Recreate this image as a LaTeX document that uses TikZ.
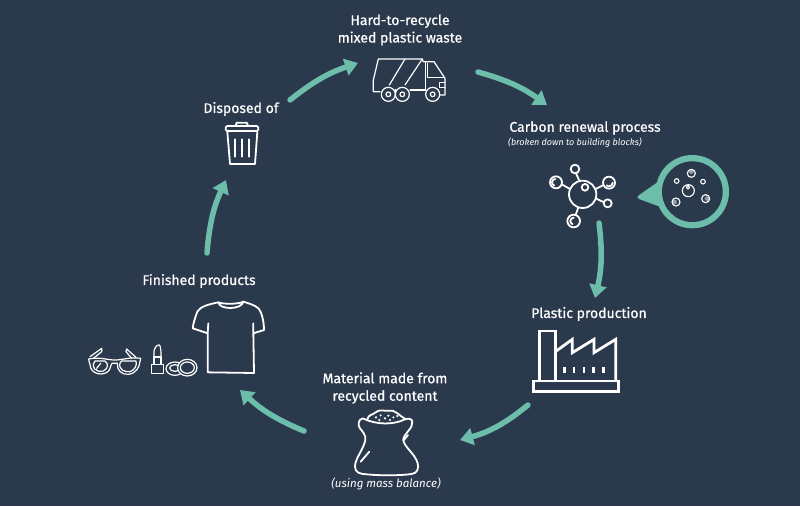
\documentclass[tikz,border=0pt]{standalone}
\usepackage{fontspec}
\setmainfont{Fira Sans}
\usetikzlibrary{arrows.meta}
\definecolor{bg}{HTML}{2B394D}
\definecolor{teal}{HTML}{6CBDA9}
\tikzset{
  lab/.style={text=white,font=\fontsize{14}{17.5}\selectfont\addfontfeature{FakeBold=0.6},align=center,inner sep=0},
  sub/.style={text=white,font=\fontsize{9}{11}\selectfont\itshape,inner sep=0},
  flow/.style={draw=teal,line width=5.5pt,line cap=round,-{Triangle[length=13pt,width=17pt,fill=teal]}},
  icon/.style={draw=white,line width=1.8pt,line cap=round,line join=round},
  fine icon/.style={draw=white,line width=1.2pt,line cap=round,line join=round},
  thick icon/.style={draw=white,line width=2.8pt,line join=miter},
  zoomed/.style={shift={#1},scale=1/3}
}
\begin{document}
\begin{tikzpicture}[x=1pt,y=-1pt]
\fill[bg] (0,0) rectangle (800,506);
\useasboundingbox (0,0) rectangle (800,506);
% labels
\node[lab] (waste) at (400,30) {Hard-to-recycle\\mixed plastic waste};
\node[lab] (disposed) at (241,109) {Disposed of};
\node[lab] (carbon) at (585,128) {Carbon renewal process};
\node[sub] (broken) at (575,143) {(broken down to building blocks)};
\node[lab] (plastic) at (589,314) {Plastic production};
\node[lab] (material) at (385,388) {Material made from\\recycled content};
\node[sub,font=\fontsize{11.5}{14}\selectfont\itshape] (balance) at (386,484) {(using mass balance)};
\node[lab] (finished) at (199,281) {Finished products};
% flow arrows
\coordinate (a1) at (290,100); \coordinate (a1e) at (358,63);
\coordinate (b1) at (478,72);  \coordinate (b1e) at (547,105);
\coordinate (c1) at (599,223); \coordinate (c1e) at (595,298);
\coordinate (d1) at (528,405); \coordinate (d1e) at (460,440);
\coordinate (e1) at (304,431); \coordinate (e1e) at (240,390);
\coordinate (f1) at (207,253); \coordinate (f1e) at (226,180);
\draw[flow] (a1) to[bend left=10] (a1e);
\draw[flow] (b1) to[bend left=10] (b1e);
\draw[flow] (c1) to[bend left=10] (c1e);
\draw[flow] (d1) to[bend left=12] (d1e);
\draw[flow] (e1) to[bend left=10] (e1e);
\draw[flow] (f1) to[bend left=10] (f1e);
% truck
\begin{scope}[zoomed={(360,0)}]
\begin{scope}[every path/.style={fine icon}]
\path (60,275)--(40,275)--(40,240)--(55,177)--(187,177)--(190,185)--(222,185)--(255,235)--(255,285)--(240,285);
\path (197,270)--(150,270) (105,270)--(107,270);
\path (135,177)--(88,255) (187,177)--(135,255);
\path (197,185)--(197,270) (203,190)--(203,232)--(250,232);
\path (255,248)--(238,248)--(238,263)--(255,263);
\foreach \x in {85,127,218}{\path (\x,283) circle[radius=21]; \path (\x,283) circle[radius=7];}
\end{scope}
\end{scope}
% molecule
\begin{scope}[zoomed={(530,150)}]
\draw[icon] (158,133) circle[radius=41] (165,112) circle[radius=10];
\draw[icon] (135,57) circle[radius=13] (148,92)--(138,70);
\draw[icon] (237,98) circle[radius=18] (195,118)--(221,105);
\draw[icon] (233,160) circle[radius=12] (197,145)--(222,157);
\draw[icon] (78,97) circle[radius=18] (120,117)--(95,103);
\draw[icon] (131,213) circle[radius=19] (145,172)--(137,195);
\draw[icon] (76,87) arc[start angle=-90,end angle=-250,radius=10];
\draw[icon] (248,98) arc[start angle=0,end angle=130,radius=11];
\draw[icon] (131,203) arc[start angle=-90,end angle=-250,radius=10];
% bubble
\fill[teal,rounded corners=4pt] (395,88)--(316,143)--(395,172)--cycle;
\fill[teal] (487,125) circle[radius=110];
\fill[bg] (487,125) circle[radius=91];
\draw[icon,line width=1.1pt] (475,122) circle[radius=18] (474,112) circle[radius=5]
  (484,70) circle[radius=12] (440,93) circle[radius=7] (519,95) circle[radius=7]
  (438,156) circle[radius=12] (527,146) circle[radius=12];
\fill[white,opacity=.5] (484,65) circle[radius=7] (434,156) circle[radius=7] (531,146) circle[radius=7];
\end{scope}
% factory
\begin{scope}[zoomed={(500,310)}]
\draw[thick icon] (118,213)--(118,63)--(166,63)--(166,213);
\draw[thick icon] (100,213) rectangle (355,245);
\draw[thick icon] (166,125)--(217,88)--(217,128)--(282,88)--(282,128)--(347,88)--(347,213);
\foreach \x in {193,222,252,281,310}{\fill[white] (\x-4,171) rectangle (\x+4,188);}
\end{scope}
% sack
\begin{scope}[zoomed={(320,400)}]
\draw[icon] (128,55) .. controls (115,58) and (112,75) .. (120,85) .. controls (128,95) and (138,105) .. (136,120)
  .. controls (130,150) and (105,175) .. (105,200) .. controls (105,218) and (120,222) .. (140,223)
  .. controls (180,227) and (240,227) .. (275,222) .. controls (292,220) and (297,205) .. (293,190)
  .. controls (285,160) and (250,140) .. (250,118) .. controls (252,100) and (280,85) .. (277,65)
  .. controls (275,55) and (265,55) .. (255,58) .. controls (220,75) and (170,75) .. (128,55) -- cycle;
\draw[icon] (142,58) .. controls (145,42) and (160,45) .. (165,38) .. controls (180,25) and (195,35) .. (205,32)
  .. controls (225,28) and (235,45) .. (255,56);
\draw[icon] (250,122)--(264,105) (122,185)--(148,155);
\foreach \p in {(168,52),(182,46),(195,55),(205,47),(220,52),(232,48),(178,60),(210,60)}{\fill[white] \p circle[radius=3.5];}
\end{scope}
% t-shirt, glasses, lipstick, compact
\begin{scope}[zoomed={(80,295)}]
\draw[icon] (415,22) .. controls (385,28) and (360,35) .. (352,50) .. controls (345,68) and (340,85) .. (338,100)
  -- (383,115) -- (385,85) (383,115) -- (383,232) -- (522,234) -- (520,115) -- (520,85)
  (520,115) -- (552,105) .. controls (552,80) and (545,50) .. (535,40) .. controls (525,30) and (505,25) .. (490,20);
\draw[icon] (415,22) .. controls (418,45) and (485,45) .. (490,20) (415,22) .. controls (430,28) and (475,28) .. (490,20);
% glasses
\draw[fine icon] (26,192) .. controls (60,185) and (80,195) .. (105,195) .. controls (130,195) and (150,185) .. (182,190);
\draw[fine icon] (26,192) .. controls (25,200) and (30,203) .. (30,208) .. controls (30,240) and (75,245) .. (88,225) .. controls (93,215) and (92,208) .. (96,205) -- (112,205);
\draw[fine icon] (112,205) .. controls (110,225) and (125,240) .. (145,238) .. controls (170,235) and (178,215) .. (180,200) -- (182,190);
\draw[fine icon] (40,208) .. controls (38,232) and (72,236) .. (80,220) .. controls (85,208) and (80,200) .. (75,198) -- (45,198) -- cycle;
\draw[fine icon] (120,204) .. controls (115,225) and (135,232) .. (150,230) .. controls (165,225) and (172,210) .. (168,198) -- (125,198) -- cycle;
\draw[fine icon] (30,185)--(65,160)--(65,170)--(40,190);
\draw[fine icon] (168,187)--(140,162)--(138,170)--(155,190);
\draw[fine icon] (50,220)--(62,205);
% lipstick
\draw[fine icon] (215,208) rectangle (250,236);
\draw[fine icon] (222,186) rectangle (243,208);
\draw[fine icon] (222,186)--(222,168) .. controls (224,158) and (232,148) .. (238,150) .. controls (243,155) and (243,170) .. (243,186);
% compact
\draw[fine icon] (285,221) ellipse[x radius=27,y radius=20];
\draw[fine icon] (285,219) ellipse[x radius=16,y radius=10];
\draw[fine icon,fill=bg] (322,218) ellipse[x radius=29,y radius=25];
\draw[fine icon] (322,218) ellipse[x radius=21,y radius=17];
\end{scope}
% bin
\begin{scope}[zoomed={(195,90)}]
\draw[icon,rounded corners=1.5pt] (92,108) rectangle (190,123);
\draw[icon] (122,108)--(125,98)--(155,98)--(160,108);
\draw[icon] (97,125)--(105,222)--(180,222)--(187,125);
\draw[icon] (120,148)--(120,200) (140,148)--(140,200) (162,148)--(162,200);
\end{scope}
\end{tikzpicture}
\end{document}
